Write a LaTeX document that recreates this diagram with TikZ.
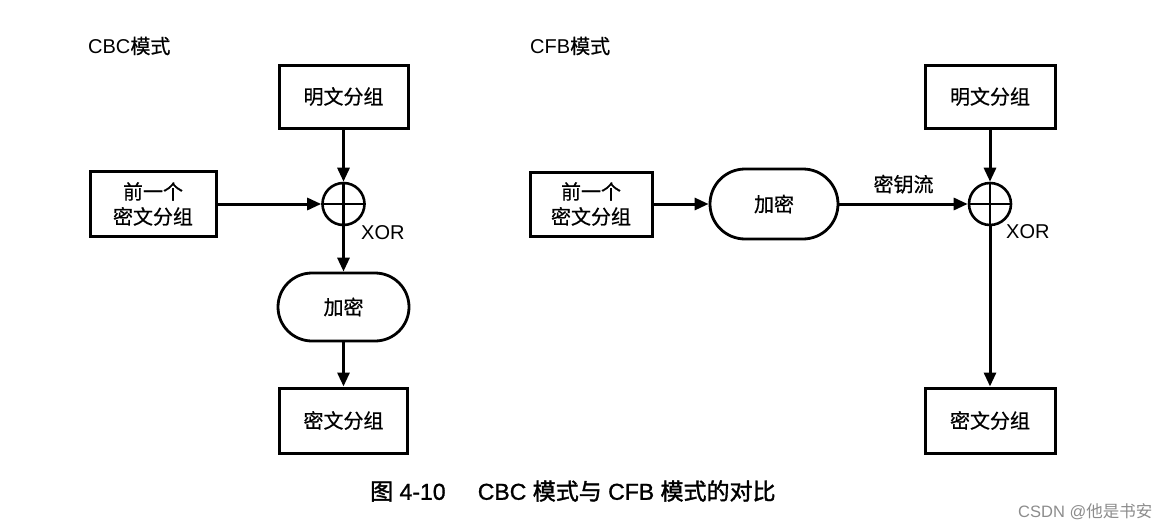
\documentclass[tikz,border=0pt]{standalone}
\usepackage{fontspec}
\setmainfont{Liberation Sans}
\newfontfamily\cjk[FakeBold=0.6]{Noto Sans CJK SC}
\newfontfamily\cjkb[FakeBold=1.6]{Noto Sans CJK SC}
\newfontfamily\latb[FakeBold=1.2]{Liberation Sans}
\newfontfamily\cjkw{Noto Sans CJK SC}
\usetikzlibrary{arrows.meta,shapes.misc}
\begin{document}
\begin{tikzpicture}[x=1pt,y=-1pt,
  box/.style={draw,line width=3pt,rectangle,inner sep=0pt,font=\fontsize{20}{25}\cjk,align=center},
  encbox/.style={draw,line width=2.8pt,rounded rectangle,inner sep=0pt,font=\fontsize{20}{25}\cjk},
  xorc/.style={draw,line width=2.6pt,circle,minimum size=42pt,inner sep=0pt},
  arr/.style={line width=3pt,-{Triangle[length=14pt,width=12pt]}},
  ln/.style={line width=2.6pt},
  lbl/.style={font=\fontsize{20}{24}\selectfont,inner sep=0pt},
]
\useasboundingbox (0,0) rectangle (1168,530);
% CBC
\node[lbl,anchor=west] (cbclabel) at (88,46) {CBC{\cjk 模式}};
\node[box,minimum width=129pt,minimum height=63pt] (p1) at (343.5,96.5) {明文分组};
\node[box,minimum width=126pt,minimum height=65pt] (prev1) at (153,204) {前一个\\密文分组};
\node[xorc] (xor1) at (343.5,204) {};
\draw[ln] (xor1.north) -- (xor1.south) (xor1.west) -- (xor1.east);
\node[lbl,anchor=west] (xorlbl1) at (361,233) {XOR};
\node[encbox,minimum width=131pt,minimum height=68pt] (enc1) at (343.5,307) {加密};
\node[box,minimum width=128pt,minimum height=65pt] (c1) at (343.5,420.5) {密文分组};
\draw[arr] (p1.south) -- (xor1.north);
\draw[arr] (prev1.east) -- (xor1.west);
\draw[arr] (xor1.south) -- (enc1.north);
\draw[arr] (enc1.south) -- (c1.north);
% CFB
\node[lbl,anchor=west] (cfblabel) at (530,46) {CFB{\cjk 模式}};
\node[box,minimum width=122pt,minimum height=64pt] (prev2) at (591,204) {前一个\\密文分组};
\node[encbox,minimum width=128pt,minimum height=70pt] (enc2) at (774,204) {加密};
\node[xorc] (xor2) at (990,204) {};
\draw[ln] (xor2.north) -- (xor2.south) (xor2.west) -- (xor2.east);
\node[lbl,anchor=west] (xorlbl2) at (1006,232) {XOR};
\node[box,minimum width=130pt,minimum height=63pt] (p2) at (990,96.5) {明文分组};
\node[box,minimum width=130pt,minimum height=65pt] (c2) at (990,420.5) {密文分组};
\draw[arr] (prev2.east) -- (enc2.west);
\draw[arr] (enc2.east) -- node[lbl,above=9pt,font=\fontsize{20}{24}\cjk] (ks) {密钥流} (xor2.west);
\draw[arr] (p2.south) -- (xor2.north);
\draw[arr] (xor2.south) -- (c2.north);
% caption
\node[lbl,font=\fontsize{23}{27}\latb,anchor=west] (cap) at (370,491) {{\cjkb 图} 4-10\hspace{1.4em}CBC {\cjkb 模式与} CFB {\cjkb 模式的对比}};
\node[lbl,font=\fontsize{16.5}{20}\selectfont,text=black!45,anchor=west] (wm) at (1018,512) {CSDN @{\cjkw 他是书安}};
\end{tikzpicture}
\end{document}
